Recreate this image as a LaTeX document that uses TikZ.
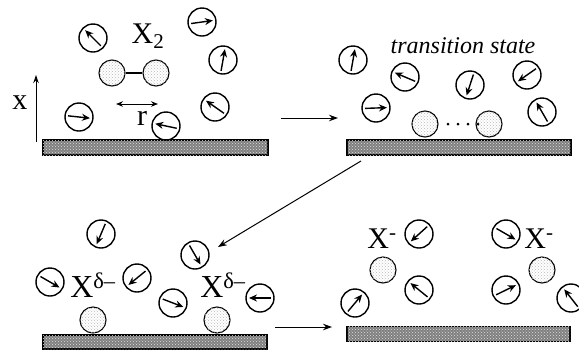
\documentclass[tikz,border=0pt]{standalone}
\usepackage{fontspec}
\setmainfont{Liberation Serif}
\usetikzlibrary{arrows.meta,patterns}

\tikzset{
  solvent/.style={circle,draw,line width=1.4pt,minimum size=28pt,inner sep=0pt},
  dipole/.style={line width=1.4pt,-{Stealth[length=8pt,width=7pt]}},
  atom/.style={circle,draw,line width=1.1pt,minimum size=26pt,inner sep=0pt,
    fill=white,postaction={pattern=crosshatch dots,pattern color=gray!55}},
  slab/.style={draw,line width=1.1pt,fill=gray,
    postaction={pattern=crosshatch dots,pattern color=gray!25}},
  flow/.style={line width=1pt,-{Stealth[length=9pt,width=6.5pt]}},
  big/.style={font=\fontsize{30}{30}\selectfont,inner sep=0pt},
}

% solvent molecule: name, x, y, direction of its dipole (degrees, counterclockwise)
\newcommand\solv[4]{%
  \node[solvent] (#1) at (#2,#3) {};
  \draw[dipole] (#1.center) ++({180-(#4)}:11) -- ++({-(#4)}:22);
}

\begin{document}
\begin{tikzpicture}[x=1pt,y=-1pt]
\useasboundingbox (0,0) rectangle (579,349);

% ---------- X2 far from the electrode ----------
\node[slab,minimum width=225pt,minimum height=15pt,inner sep=0pt] (s1) at (155.5,147.5) {};
\coordinate (xa) at (36,142);
\coordinate (xb) at (36,75);
\draw[line width=1pt,-{Stealth[length=8pt,width=5.5pt]}] (xa) -- (xb);
\node[big] (xl) at (20,103) {x};
\node[atom] (m1) at (112,73) {};
\node[atom] (m2) at (156,73) {};
\draw[line width=2.8pt] (m1) -- (m2);
\node[big] (x2) at (148,36) {X\textsubscript{2}};
\coordinate (ra) at (116,104);
\coordinate (rb) at (158,104);
\draw[line width=1pt,{Stealth[length=7pt,width=5.5pt]}-{Stealth[length=7pt,width=5.5pt]}] (ra) -- (rb);
\node[big] (rl) at (142,118) {r};
\solv{c1}{93}{38}{135}
\solv{c2}{202}{22}{8}
\solv{c3}{223}{60}{80}
\solv{c4}{215}{107}{145}
\solv{c5}{79}{117}{-6}
\solv{c6}{166}{126}{168}

% ---------- transition state ----------
\node[slab,minimum width=224pt,minimum height=15pt,inner sep=0pt] (s2) at (459,147.5) {};
\node[font=\fontsize{24}{24}\selectfont\itshape,inner sep=0pt] (ts) at (463,46) {transition state};
\node[atom] (t1) at (425,124) {};
\node[atom] (t2) at (489,124) {};
\foreach \i/\xx in {1/448,2/458,3/468,4/478}
  \fill (\xx,124) circle (1.5pt);
\solv{d1}{353}{60}{80}
\solv{d2}{405}{77}{157}
\solv{d3}{470}{85}{252}
\solv{d4}{527}{75}{215}
\solv{d5}{376}{108}{2}
\solv{d6}{542}{112}{120}

% ---------- partially charged adsorbed atoms ----------
\node[slab,minimum width=224pt,minimum height=14pt,inner sep=0pt] (s3) at (155,342) {};
\node[atom] (b1) at (93,320) {};
\node[atom] (b2) at (217,320) {};
\node[big,font=\fontsize{32}{32}\selectfont] (l1) at (93,285) {X\textsuperscript{δ–}};
\node[big,font=\fontsize{32}{32}\selectfont] (l2) at (223,285) {X\textsuperscript{δ–}};
\solv{e1}{101}{234}{247}
\solv{e2}{50}{282}{-30}
\solv{e3}{137}{278}{219}
\solv{e4}{195}{255}{-60}
\solv{e5}{173}{303}{-21}
\solv{e6}{260}{298}{180}

% ---------- solvated ions ----------
\node[slab,minimum width=223pt,minimum height=15pt,inner sep=0pt] (s4) at (458.5,334) {};
\node[atom] (q1) at (383,270) {};
\node[atom] (q2) at (542,270) {};
\node[big] (l3) at (382,239) {X\textsuperscript{-}};
\node[big] (l4) at (539,239) {X\textsuperscript{-}};
\solv{f1}{419}{234}{222}
\solv{f2}{355}{303}{50}
\solv{f3}{419}{290}{141}
\solv{f4}{506}{234}{-30}
\solv{f5}{506}{290}{26}
\solv{f6}{571}{298}{128}

% ---------- reaction steps ----------
\coordinate (a1s) at (281,118);
\coordinate (a1e) at (338,118);
\coordinate (a2s) at (361,161);
\coordinate (a2e) at (218,247);
\coordinate (a3s) at (275,327);
\coordinate (a3e) at (332,327);
\draw[flow] (a1s) -- (a1e);
\draw[flow] (a2s) -- (a2e);
\draw[flow] (a3s) -- (a3e);
\end{tikzpicture}
\end{document}
